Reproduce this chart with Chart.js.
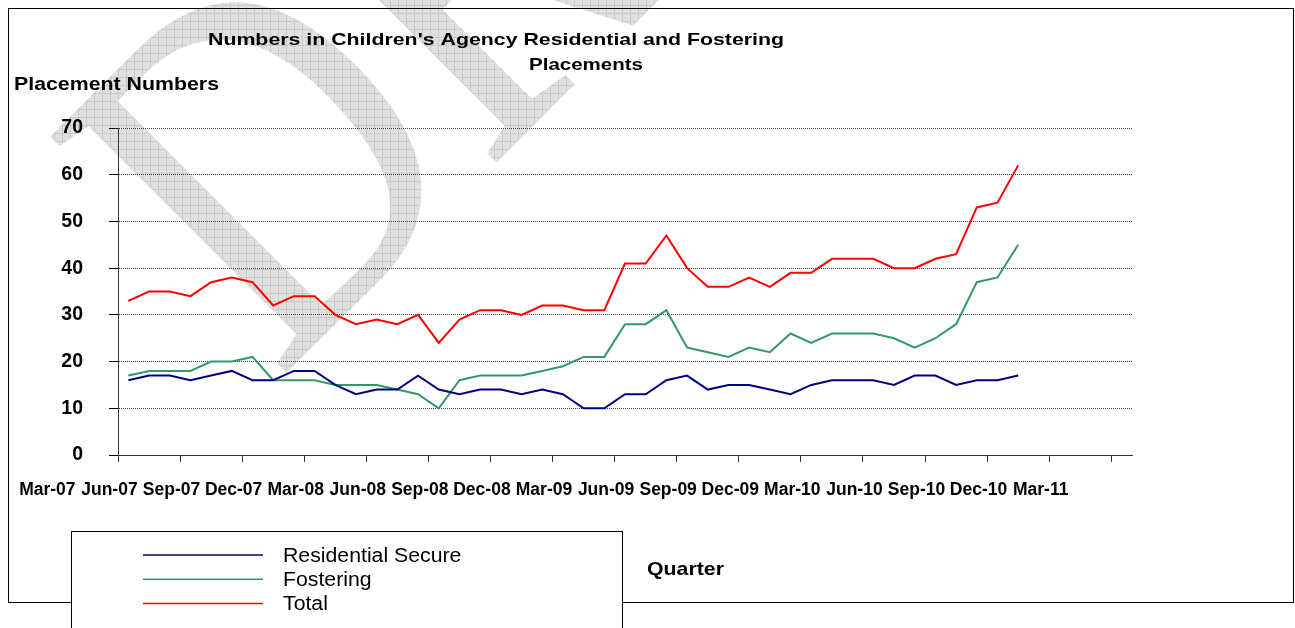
<!DOCTYPE html>
<html>
<head>
    <title>Numbers in Children's Agency Residential and Fostering Placements</title>
    <style>
        body { margin: 0; background: #fff; }
        #chartContainer { width: 1295px; height: 628px; position: relative; }
    </style>
    <script src="https://cdn.jsdelivr.net/npm/chart.js"></script>
</head>
<body>

    <div id="chartContainer">
        <canvas id="placementChart"></canvas>
    </div>

    <script>
        // monthly categories, Mar-07 to Mar-11
        const months = [
            'Mar-07', 'Apr-07', 'May-07', 'Jun-07', 'Jul-07', 'Aug-07', 'Sep-07', 'Oct-07', 'Nov-07', 'Dec-07', 'Jan-08', 'Feb-08',
            'Mar-08', 'Apr-08', 'May-08', 'Jun-08', 'Jul-08', 'Aug-08', 'Sep-08', 'Oct-08', 'Nov-08', 'Dec-08', 'Jan-09', 'Feb-09',
            'Mar-09', 'Apr-09', 'May-09', 'Jun-09', 'Jul-09', 'Aug-09', 'Sep-09', 'Oct-09', 'Nov-09', 'Dec-09', 'Jan-10', 'Feb-10',
            'Mar-10', 'Apr-10', 'May-10', 'Jun-10', 'Jul-10', 'Aug-10', 'Sep-10', 'Oct-10', 'Nov-10', 'Dec-10', 'Jan-11', 'Feb-11',
            'Mar-11'
        ];
        const quarterLabels = [
            'Mar-07', 'Jun-07', 'Sep-07', 'Dec-07', 'Mar-08', 'Jun-08', 'Sep-08', 'Dec-08', 'Mar-09',
            'Jun-09', 'Sep-09', 'Dec-09', 'Mar-10', 'Jun-10', 'Sep-10', 'Dec-10', 'Mar-11'
        ];

        const residentialSecure = [16, 17, 17, 16, 17, 18, 16, 16, 18, 18, 15, 13, 14, 14, 17, 14, 13, 14, 14, 13, 14, 13,
            10, 10, 13, 13, 16, 17, 14, 15, 15, 14, 13, 15, 16, 16, 16, 15, 17, 17, 15, 16, 16, 17];
        const fostering = [17, 18, 18, 18, 20, 20, 21, 16, 16, 16, 15, 15, 15, 14, 13, 10, 16, 17, 17, 17, 18, 19,
            21, 21, 28, 28, 31, 23, 22, 21, 23, 22, 26, 24, 26, 26, 26, 25, 23, 25, 28, 37, 38, 45];
        const total = [33, 35, 35, 34, 37, 38, 37, 32, 34, 34, 30, 28, 29, 28, 30, 24, 29, 31, 31, 30, 32, 32,
            31, 31, 41, 41, 47, 40, 36, 36, 38, 36, 39, 39, 42, 42, 42, 40, 40, 42, 43, 53, 54, 62];

        const seriesNames = ['Residential Secure', 'Fostering', 'Total'];
        const seriesColors = ['#000080', '#339966', '#ff0000'];

        const FONT = "'Liberation Sans', Arial, sans-serif";

        // text drawn wider than the font, as in the original picture
        function drawStretched(ctx, text, x, y, font, width) {
            ctx.save();
            ctx.font = font;
            ctx.fillStyle = '#000';
            ctx.textBaseline = 'alphabetic';
            const sx = width / ctx.measureText(text).width;
            ctx.translate(x, y);
            ctx.scale(sx, 1);
            ctx.fillText(text, 0, 0);
            ctx.restore();
        }

        function hatchPattern(ctx, m) {
            const c = document.createElement('canvas');
            c.width = 8; c.height = 8;
            const p = c.getContext('2d');
            p.fillStyle = '#e0e0e0';
            p.fillRect(0, 0, 8, 8);
            p.fillStyle = '#cacaca';
            p.fillRect(0, 0, 8, 1);
            p.fillRect(0, 0, 1, 8);
            const pat = ctx.createPattern(c, 'repeat');
            pat.setTransform(m);
            return pat;
        }

        const decorations = {
            id: 'decorations',
            beforeDraw(chart) {
                const ctx = chart.ctx;
                ctx.save();
                ctx.fillStyle = '#fff';
                ctx.fillRect(0, 0, chart.width, chart.height);

                // DRAFT watermark
                ctx.translate(278, 381);
                ctx.rotate(-Math.PI / 4);
                ctx.scale(0.8, 1);
                ctx.font = "510px 'Liberation Serif', 'Times New Roman', serif";
                ctx.fillStyle = hatchPattern(ctx, new DOMMatrix().scale(1.25, 1).rotate(45));
                ctx.fillText('DRAFT', 0, 0);
                ctx.restore();

                // outer frame
                ctx.save();
                ctx.strokeStyle = '#000';
                ctx.lineWidth = 1;
                ctx.strokeRect(8.5, 8.5, 1285, 594);
                ctx.restore();
            },
            afterDraw(chart) {
                const ctx = chart.ctx;
                drawStretched(ctx, "Numbers in Children's Agency Residential and Fostering", 208, 45, 'bold 17px ' + FONT, 576);
                drawStretched(ctx, 'Placements', 529, 70, 'bold 17px ' + FONT, 114);
                drawStretched(ctx, 'Placement Numbers', 14, 90, 'bold 17.5px ' + FONT, 205);
                drawStretched(ctx, 'Quarter', 647, 575, 'bold 18.5px ' + FONT, 77);

                // legend box
                ctx.save();
                ctx.fillStyle = '#fff';
                ctx.strokeStyle = '#000';
                ctx.lineWidth = 1;
                ctx.fillRect(71.5, 531.5, 551, 110);
                ctx.strokeRect(71.5, 531.5, 551, 110);
                chart.data.datasets.forEach((ds, i) => {
                    const y = 555 + i * 24.3;
                    ctx.strokeStyle = ds.borderColor;
                    ctx.lineWidth = 1.5;
                    ctx.beginPath();
                    ctx.moveTo(143, y);
                    ctx.lineTo(263, y);
                    ctx.stroke();
                    ctx.save();
                    ctx.font = '19.5px ' + FONT;
                    ctx.fillStyle = '#000';
                    ctx.translate(283, y + 6.5);
                    ctx.scale(1.09, 1);
                    ctx.fillText(ds.label, 0, 0);
                    ctx.restore();
                });
                ctx.restore();
            }
        };

        const ctx = document.getElementById('placementChart').getContext('2d');
        new Chart(ctx, {
            type: 'line',
            data: {
                labels: months,
                datasets: [
                    { label: seriesNames[0], data: residentialSecure, borderColor: seriesColors[0] },
                    { label: seriesNames[1], data: fostering, borderColor: seriesColors[1] },
                    { label: seriesNames[2], data: total, borderColor: seriesColors[2] }
                ].map(d => Object.assign(d, { borderWidth: 2, pointRadius: 0, tension: 0, fill: false }))
            },
            options: {
                responsive: true,
                maintainAspectRatio: false,
                animation: false,
                layout: { padding: { left: 0, right: 163, top: 128, bottom: 113 } },
                plugins: {
                    legend: { display: false },
                    title: { display: false },
                    tooltip: { enabled: false }
                },
                scales: {
                    x: {
                        offset: true,
                        afterFit: s => { s.height = 60; },
                        grid: {
                            offset: true,
                            drawOnChartArea: false,
                            drawTicks: true,
                            tickLength: 7,
                            color: c => (c.index % 3 === 0 && c.index < months.length) ? '#333' : 'transparent',
                            tickColor: c => (c.index % 3 === 0 && c.index < months.length) ? '#333' : 'transparent'
                        },
                        border: { display: true, color: '#333', width: 1 },
                        ticks: {
                            autoSkip: false,
                            maxRotation: 0,
                            minRotation: 0,
                            labelOffset: -81,
                            padding: 18,
                            color: '#000',
                            font: { family: FONT, size: 17.5, weight: 'bold' },
                            callback: (val, i) => i % 3 === 0 ? quarterLabels[i / 3] : ''
                        }
                    },
                    y: {
                        min: 0,
                        max: 70,
                        afterFit: s => { s.width = 118; },
                        grid: {
                            color: '#444',
                            lineWidth: 1,
                            tickLength: 9,
                            tickColor: '#000'
                        },
                        border: { display: true, color: '#333', width: 1, dash: [1, 1] },
                        ticks: {
                            stepSize: 10,
                            padding: 26,
                            color: '#000',
                            font: { family: FONT, size: 19.5, weight: 'bold' }
                        }
                    }
                }
            },
            plugins: [decorations]
        });
    </script>

</body>
</html>
